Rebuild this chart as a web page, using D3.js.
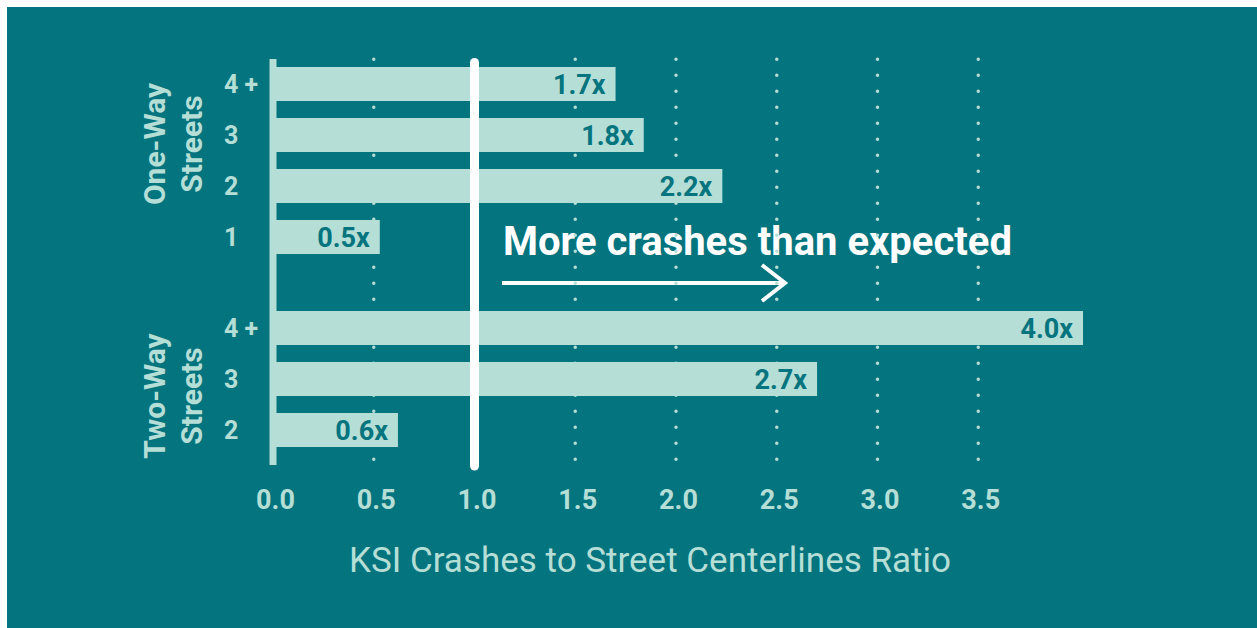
<!DOCTYPE html>
<html>
<head>
<meta charset="utf-8">
<script src="https://cdn.jsdelivr.net/npm/d3@7"></script>
<style>
  body { margin: 0; background: #fff; }
  text { font-family: Roboto, "Open Sans", sans-serif; }
</style>
</head>
<body>
<div id="chart"></div>
<script>
// data
var oneWayCats = ["4 +", "3", "2", "1"];
var oneWayVals = [1.70, 1.84, 2.23, 0.53];
var twoWayCats = ["4 +", "3", "2"];
var twoWayVals = [4.02, 2.70, 0.62];
var xTicks = [0, 0.5, 1, 1.5, 2, 2.5, 3, 3.5];
var gridTicks = [0.5, 1.5, 2, 2.5, 3, 3.5];
var groupLabels = [["One-Way", "Streets"], ["Two-Way", "Streets"]];
var xTitle = "KSI Crashes to Street Centerlines Ratio";
var note = "More crashes than expected";

var W = 1257, H = 628;
var bg = "#04747e", light = "#b5ded6";

var svg = d3.select("#chart")
  .append("svg")
    .attr("width", W)
    .attr("height", H);

svg.append("rect")
  .attr("x", 7).attr("y", 7)
  .attr("width", W - 7).attr("height", H - 7)
  .attr("fill", bg);

// scales
var x = d3.scaleLinear()
  .domain([0, 4])
  .range([273, 1079]);

var yOne = d3.scaleBand()
  .domain(oneWayCats)
  .range([58.5, 262.5])
  .paddingInner(1 / 3)
  .paddingOuter(1 / 6);

var yTwo = d3.scaleBand()
  .domain(twoWayCats)
  .range([302.5, 455.5])
  .paddingInner(1 / 3)
  .paddingOuter(1 / 6);

// annotation text + arrow (under the dotted grid)
svg.append("text")
  .attr("x", 503)
  .attr("y", 255)
  .attr("fill", "#fff")
  .attr("font-size", 40)
  .attr("font-weight", 700)
  .text(note);

svg.append("line")
  .attr("x1", 502).attr("x2", 784)
  .attr("y1", 283).attr("y2", 283)
  .attr("stroke", "#fff")
  .attr("stroke-width", 4);
svg.append("path")
  .attr("d", "M762,265 L785,283 L762,301")
  .attr("fill", "none")
  .attr("stroke", "#fff")
  .attr("stroke-width", 4);

// dotted grid
svg.append("g")
  .selectAll("line")
  .data(gridTicks)
  .enter().append("line")
    .attr("x1", function(d) { return x(d); })
    .attr("x2", function(d) { return x(d); })
    .attr("y1", 59.3)
    .attr("y2", 462)
    .attr("stroke", light)
    .attr("stroke-width", 3.5)
    .attr("stroke-linecap", "round")
    .attr("stroke-dasharray", "0,16");

// bars for one group
function drawGroup(cats, vals, y) {
  var rows = cats.map(function(c, i) { return {cat: c, val: vals[i]}; });
  var g = svg.append("g");

  g.selectAll("rect")
    .data(rows)
    .enter().append("rect")
      .attr("x", x(0))
      .attr("y", function(d) { return y(d.cat); })
      .attr("width", function(d) { return x(d.val) - x(0); })
      .attr("height", y.bandwidth())
      .attr("fill", light);

  g.selectAll("text")
    .data(rows)
    .enter().append("text")
      .attr("x", function(d) { return x(d.val) - 10; })
      .attr("y", function(d) { return y(d.cat) + y.bandwidth() / 2 + 9.5; })
      .attr("text-anchor", "end")
      .attr("fill", bg)
      .attr("font-size", 27)
      .attr("font-weight", 700)
      .text(function(d) { return d3.format(".1f")(d.val) + "x"; });

  // row labels, left aligned in a column
  var ax = svg.append("g")
    .attr("transform", "translate(224,0)")
    .call(d3.axisLeft(y).tickSize(0).tickPadding(0));
  ax.select(".domain").remove();
  ax.selectAll("text")
    .attr("text-anchor", "start")
    .attr("x", 0)
    .attr("fill", light)
    .attr("font-size", 25)
    .attr("font-weight", 700)
    .attr("font-family", "Roboto")
    .attr("dy", "0.35em");
}

drawGroup(oneWayCats, oneWayVals, yOne);
drawGroup(twoWayCats, twoWayVals, yTwo);

// white reference line at 1.0
svg.append("line")
  .attr("x1", x(1)).attr("x2", x(1))
  .attr("y1", 62.5).attr("y2", 466)
  .attr("stroke", "#fff")
  .attr("stroke-width", 9)
  .attr("stroke-linecap", "round");

// y axis line
svg.append("line")
  .attr("x1", x(0)).attr("x2", x(0))
  .attr("y1", 59).attr("y2", 465)
  .attr("stroke", light)
  .attr("stroke-width", 7);

// group labels, rotated
var groupCenters = [144, 396];
groupLabels.forEach(function(lines, i) {
  var t = svg.append("text")
    .attr("transform", "translate(0," + groupCenters[i] + ") rotate(-90)")
    .attr("text-anchor", "middle")
    .attr("fill", light)
    .attr("font-size", 30)
    .attr("font-weight", 700);
  t.append("tspan").attr("x", 0).attr("y", 164.5).text(lines[0]);
  t.append("tspan").attr("x", 0).attr("y", 201.5).text(lines[1]);
});

// x axis
var xa = svg.append("g")
  .attr("transform", "translate(2,480)")
  .call(d3.axisBottom(x).tickValues(xTicks).tickFormat(d3.format(".1f")).tickSize(0).tickPadding(10));
xa.select(".domain").remove();
xa.selectAll("text")
  .attr("fill", light)
  .attr("font-size", 27)
  .attr("font-weight", 700)
  .attr("font-family", "Roboto")
  .attr("dy", "0.71em");

svg.append("text")
  .attr("x", 650)
  .attr("y", 572)
  .attr("text-anchor", "middle")
  .attr("fill", light)
  .attr("font-size", 35)
  .text(xTitle);
</script>
</body>
</html>
